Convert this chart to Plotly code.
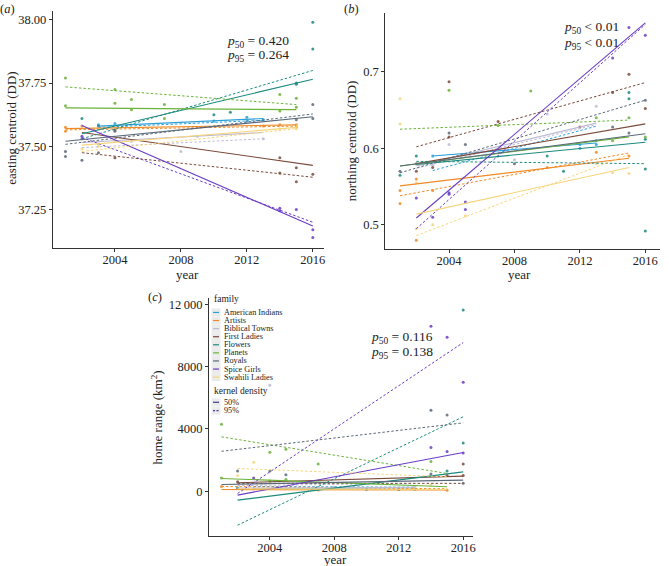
import plotly.graph_objects as go

W, H = 669, 566

families = ["American Indians", "Artists", "Biblical Towns", "First Ladies", "Flowers",
            "Planets", "Royals", "Spice Girls", "Swahili Ladies"]
colors = ["#2b9fd8", "#f08a26", "#bdbad4", "#7b4a3a", "#1b8a7e",
          "#6ab23a", "#5a6878", "#6a3cc4", "#f6d57c"]

# regression line spans (years) per family
line_start = [2003, 2001, 2002, 2002, 2002, 2001, 2001, 2002, 2002]
line_end = [2013, 2015, 2013, 2016, 2016, 2015, 2016, 2016, 2015]

# (a) easting centroid regression lines
a50_start = [37.580, 37.570, 37.515, 37.555, 37.550, 37.652, 37.520, 37.582, 37.505]
a50_end = [37.610, 37.585, 37.555, 37.425, 37.765, 37.645, 37.617, 37.185, 37.575]
a95_start = [37.575, 37.565, 37.495, 37.475, 37.530, 37.735, 37.508, 37.535, 37.480]
a95_end = [37.603, 37.580, 37.530, 37.378, 37.800, 37.665, 37.628, 37.200, 37.570]

# (b) northing centroid regression lines
b50_start = [0.590, 0.551, 0.577, 0.580, 0.579, 0.577, 0.577, 0.509, 0.514]
b50_end = [0.607, 0.587, 0.633, 0.632, 0.608, 0.615, 0.619, 0.764, 0.575]
b95_start = [0.571, 0.538, 0.574, 0.602, 0.583, 0.625, 0.568, 0.495, 0.486]
b95_end = [0.629, 0.594, 0.631, 0.686, 0.580, 0.637, 0.663, 0.762, 0.592]

# (c) home range regression lines
c50_start = [150, 100, 200, 535, -580, 815, 430, -257, 150]
c50_end = [120, 80, 250, 964, 1240, 280, 707, 2486, 100]
c95_start = [300, 300, 350, 500, -2190, 3490, 2560, -150, 1457]
c95_end = [250, 150, 500, 500, 4780, 1135, 4390, 9550, 920]

# (a) points
a_fam = [5]*12 + [4]*8 + [0]*6 + [1]*7 + [6]*8 + [3]*7 + [7]*7 + [8]*6 + [2]*5
a_year = [2001, 2001, 2004, 2004, 2005, 2005, 2007, 2007, 2014, 2014, 2015, 2015,
          2002, 2003, 2010, 2011, 2015, 2015, 2016, 2016,
          2003, 2004, 2010, 2012, 2013, 2012,
          2001, 2001, 2002, 2013, 2014, 2015, 2015,
          2001, 2001, 2002, 2003, 2004, 2015, 2016, 2016,
          2004, 2004, 2014, 2015, 2016, 2014, 2015,
          2002, 2002, 2014, 2014, 2015, 2016, 2016,
          2002, 2003, 2004, 2014, 2015, 2015,
          2003, 2008, 2009, 2013, 2005]
a_val = [37.77, 37.66, 37.725, 37.67, 37.685, 37.645, 37.665, 37.61, 37.705, 37.64, 37.69, 37.655,
         37.61, 37.58, 37.625, 37.635, 37.75, 37.745, 37.99, 37.885,
         37.585, 37.59, 37.60, 37.615, 37.605, 37.60,
         37.575, 37.56, 37.58, 37.58, 37.585, 37.585, 37.575,
         37.48, 37.46, 37.445, 37.475, 37.56, 37.605, 37.665, 37.61,
         37.455, 37.565, 37.455, 37.415, 37.39, 37.395, 37.36,
         37.54, 37.53, 37.255, 37.245, 37.25, 37.17, 37.14,
         37.49, 37.50, 37.52, 37.57, 37.57, 37.58,
         37.51, 37.48, 37.54, 37.53, 37.52]

# (b) points
b_fam = [8, 8, 1, 1, 6, 4,
         4, 6, 3, 1, 8, 7, 8, 1,
         0, 2, 3, 7, 8, 1,
         3, 5, 6, 3, 2, 7, 7,
         6, 7, 7, 8,
         3, 5, 2,
         2, 6,
         5,
         2, 4, 1,
         4,
         3, 0, 0,
         2, 0, 5, 0, 1, 8,
         7, 3, 6, 5, 8,
         7, 3, 4, 4, 5, 6, 1, 8,
         7, 6, 3, 5, 4, 4, 4]
b_year = [2001, 2001, 2001, 2001, 2001, 2001,
          2002, 2002, 2002, 2002, 2002, 2002, 2002, 2002,
          2003, 2003, 2003, 2003, 2003, 2003,
          2004, 2004, 2004, 2004, 2004, 2004, 2004,
          2005, 2005, 2005, 2005,
          2007, 2007, 2007,
          2008, 2008,
          2009,
          2010, 2010, 2010,
          2011,
          2012, 2012, 2012,
          2013, 2013, 2013, 2013, 2013, 2013,
          2014, 2014, 2014, 2014, 2014,
          2015, 2015, 2015, 2015, 2015, 2015, 2015, 2015,
          2016, 2016, 2016, 2016, 2016, 2016, 2016]
b_val = [0.665, 0.632, 0.545, 0.528, 0.570, 0.565,
         0.590, 0.580, 0.570, 0.560, 0.555, 0.535, 0.495, 0.480,
         0.590, 0.578, 0.575, 0.510, 0.500, 0.545,
         0.687, 0.676, 0.620, 0.615, 0.605, 0.542, 0.540,
         0.605, 0.530, 0.520, 0.512,
         0.635, 0.630, 0.590,
         0.585, 0.580,
         0.675,
         0.645, 0.590, 0.575,
         0.570,
         0.628, 0.605, 0.600,
         0.655, 0.610, 0.640, 0.605, 0.595, 0.580,
         0.718, 0.673, 0.628, 0.610, 0.568,
         0.758, 0.697, 0.673, 0.665, 0.640, 0.620, 0.590, 0.567,
         0.748, 0.663, 0.652, 0.615, 0.612, 0.573, 0.492]

# (c) points
c_fam = [7, 7, 7, 7, 7, 7, 7,
         4, 4, 4, 4, 4,
         6, 6, 6, 6, 6, 6, 6,
         3, 3, 3, 3,
         5, 5, 5, 5, 5, 5, 5, 5,
         8, 8, 8, 8,
         0, 0, 0, 1, 1, 1, 2, 2, 2]
c_year = [2014, 2015, 2016, 2014, 2015, 2016, 2003,
          2016, 2016, 2015, 2012, 2002,
          2014, 2015, 2002, 2004, 2005, 2014, 2016,
          2016, 2002, 2015, 2016,
          2001, 2004, 2005, 2007, 2014, 2001, 2005, 2004,
          2003, 2002, 2014, 2013,
          2003, 2010, 2013, 2001, 2007, 2015, 2004, 2008, 2013]
c_val = [10600, 9900, 7000, 2800, 2550, 2450, 850,
         11650, 3100, 1300, 100, 200,
         5200, 4900, 1300, 1300, 1050, 1100, 500,
         1750, 600, 1000, 1000,
         4300, 2500, 2700, 1750, 1900, 850, 750, 650,
         1850, 1000, 400, 200,
         150, 100, 120, 300, 80, 60, 6800, 250, 300]

# tick labels
a_ytick_vals = [37.25, 37.50, 37.75, 38.00]
a_ytick_text = ["37.25", "37.50", "37.75", "38.00"]
b_ytick_vals = [0.5, 0.6, 0.7]
b_ytick_text = ["0.5", "0.6", "0.7"]
c_ytick_vals = [0, 4000, 8000, 12000]
c_ytick_text = ["0", "4000", "8000", "12\u2009000"]
x_tick_vals = [2004, 2008, 2012, 2016]
x_tick_text = ["2004", "2008", "2012", "2016"]

FONT = "Liberation Serif"
TXT = "#222222"


def px(x, y):
    return x / W, 1 - y / H


fig = go.Figure()

panels = [
    ("x", "y", a50_start, a50_end, a95_start, a95_end, a_fam, a_year, a_val),
    ("x2", "y2", b50_start, b50_end, b95_start, b95_end, b_fam, b_year, b_val),
    ("x3", "y3", c50_start, c50_end, c95_start, c95_end, c_fam, c_year, c_val),
]

for xa, ya, s50, e50, s95, e95, pf, py, pv in panels:
    for i, fam in enumerate(families):
        xs = [yr for f, yr in zip(pf, py) if f == i]
        ys = [v for f, v in zip(pf, pv) if f == i]
        fig.add_trace(go.Scatter(x=xs, y=ys, mode="markers", xaxis=xa, yaxis=ya,
                                 marker=dict(size=3, color=colors[i], opacity=0.85),
                                 showlegend=False, hoverinfo="skip"))
    for i, fam in enumerate(families):
        fig.add_trace(go.Scatter(x=[line_start[i], line_end[i]], y=[s95[i], e95[i]],
                                 mode="lines", xaxis=xa, yaxis=ya,
                                 line=dict(color=colors[i], width=1, dash="2.5px,2px"),
                                 showlegend=False, hoverinfo="skip"))
        fig.add_trace(go.Scatter(x=[line_start[i], line_end[i]], y=[s50[i], e50[i]],
                                 mode="lines", xaxis=xa, yaxis=ya,
                                 line=dict(color=colors[i], width=1.1),
                                 showlegend=False, hoverinfo="skip"))

axis_common = dict(showline=True, linecolor="#333333", linewidth=1, ticks="outside",
                   ticklen=3, tickcolor="#333333", showgrid=False, zeroline=False,
                   tickfont=dict(family=FONT, size=12.5, color=TXT))
xaxis_extra = dict(ticklabelstandoff=-3)

fig.update_layout(
    width=W, height=H, margin=dict(l=0, r=0, t=0, b=0),
    font=dict(family=FONT, color=TXT),
    paper_bgcolor="white", plot_bgcolor="white", showlegend=False,
    xaxis=dict(domain=[53 / W, 325 / W], range=[2000.23, 2016.65], anchor="y",
               tickvals=x_tick_vals, ticktext=x_tick_text, **axis_common, **xaxis_extra),
    yaxis=dict(domain=[1 - 247 / H, 1 - 10 / H], range=[37.10, 38.035], anchor="x",
               tickvals=a_ytick_vals, ticktext=a_ytick_text, **axis_common),
    xaxis2=dict(domain=[387 / W, 663 / W], range=[2000.1, 2016.9], anchor="y2",
                tickvals=x_tick_vals, ticktext=x_tick_text, **axis_common, **xaxis_extra),
    yaxis2=dict(domain=[1 - 248 / H, 1 - 12 / H], range=[0.469, 0.777], anchor="x2",
                tickvals=b_ytick_vals, ticktext=b_ytick_text, **axis_common),
    xaxis3=dict(domain=[210 / W, 475 / W], range=[2000.23, 2016.6], anchor="y3",
                tickvals=x_tick_vals, ticktext=x_tick_text, **axis_common, **xaxis_extra),
    yaxis3=dict(domain=[1 - 536 / H, 1 - 298 / H], range=[-2888, 12385], anchor="x3",
                tickvals=c_ytick_vals, ticktext=c_ytick_text, **axis_common),
)

ann = []
shapes = []


def text(x, y, s, size=13, angle=0, xanchor="center"):
    xx, yy = px(x, y)
    ann.append(dict(x=xx, y=yy, xref="paper", yref="paper", text=s, showarrow=False,
                    xanchor=xanchor, yanchor="middle", textangle=angle,
                    font=dict(family=FONT, size=size, color=TXT)))


# panel labels
text(8, 8, "(<i>a</i>)", 12.5)
text(353, 8, "(<i>b</i>)", 12.5)
text(156, 297, "(<i>c</i>)", 12.5)

# axis titles
text(12, 127, "easting centroid (DD)", 13, -90)
text(188, 274, "year", 13)
text(353, 140, "northing centroid (DD)", 13, -90)
text(522, 274, "year", 13)
text(158, 417, "home range (km<sup>2</sup>)", 13, -90)
text(337, 559, "year", 13)

# p-values
p_texts = [("<i>p</i><sub>50</sub> = 0.420", "<i>p</i><sub>95</sub> = 0.264", 259, 41, 55),
           ("<i>p</i><sub>50</sub> &lt; 0.01", "<i>p</i><sub>95</sub> &lt; 0.01", 594, 27, 43),
           ("<i>p</i><sub>50</sub> = 0.116", "<i>p</i><sub>95</sub> = 0.138", 404, 337, 352)]
for t1, t2, cx, y1, y2 in p_texts:
    text(cx, y1, t1, 13.5)
    text(cx, y2, t2, 13.5)

# legend (panel c)
LEG_X = 213
text(LEG_X, 299, "family", 9.5, xanchor="left")
for i, fam in enumerate(families):
    yy = 312 + 8.1 * i
    x0, y0 = px(212.5, yy - 4)
    x1, y1 = px(221.5, yy + 4)
    shapes.append(dict(type="rect", xref="paper", yref="paper", x0=x0, x1=x1, y0=y0, y1=y1,
                       fillcolor="#ebebeb", line=dict(width=0), layer="below"))
    lx0, ly = px(214, yy)
    lx1, _ = px(220, yy)
    shapes.append(dict(type="line", xref="paper", yref="paper", x0=lx0, x1=lx1, y0=ly, y1=ly,
                       line=dict(color=colors[i], width=1.2)))
    text(223, yy, fam, 8.2, xanchor="left")

text(LEG_X, 391, "kernel density", 9.5, xanchor="left")
for j, (lab, dash) in enumerate([("50%", "solid"), ("95%", "2px,1.5px")]):
    yy = 402 + 8.3 * j
    x0, y0 = px(212.5, yy - 4)
    x1, y1 = px(221.5, yy + 4)
    shapes.append(dict(type="rect", xref="paper", yref="paper", x0=x0, x1=x1, y0=y0, y1=y1,
                       fillcolor="#ebebeb", line=dict(width=0), layer="below"))
    lx0, ly = px(214, yy)
    lx1, _ = px(220, yy)
    shapes.append(dict(type="line", xref="paper", yref="paper", x0=lx0, x1=lx1, y0=ly, y1=ly,
                       line=dict(color="#3b3b8c", width=1.2, dash=dash)))
    text(223, yy, lab, 8.2, xanchor="left")

fig.update_layout(annotations=ann, shapes=shapes)
fig.write_html("out.html", config={"displayModeBar": False},
               post_script="document.body.style.margin='0';document.body.style.overflow='hidden';")
